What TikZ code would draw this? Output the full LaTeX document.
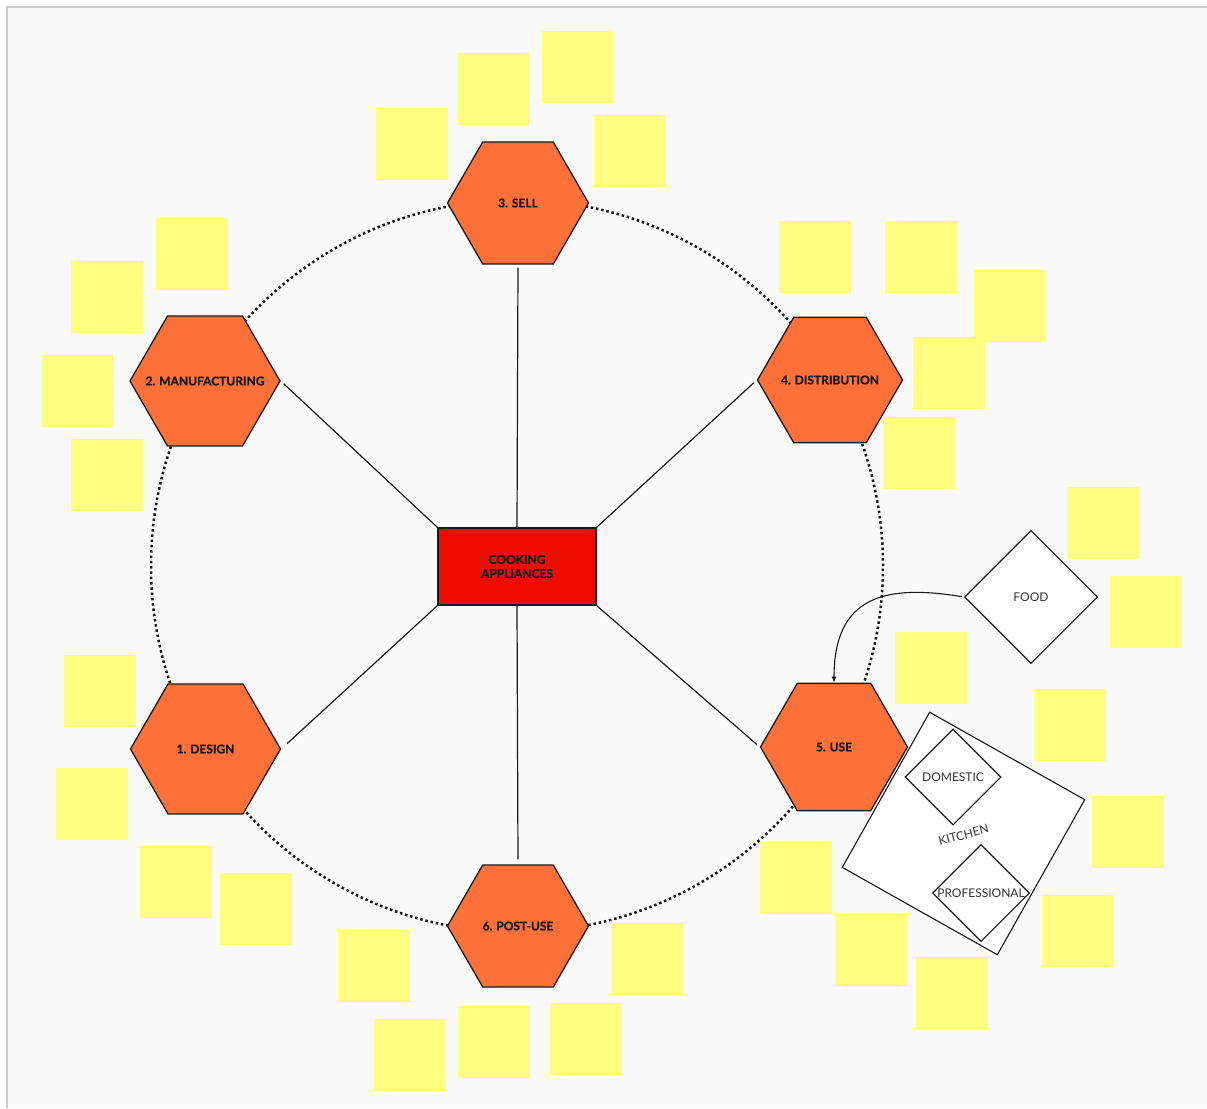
\documentclass[tikz,border=0pt]{standalone}
\usepackage{fontspec}
\setmainfont{Lato}
\newfontfamily\stagefont{Lato}[BoldFeatures={FakeBold=1.2}]
\usepackage{tikz}
\usetikzlibrary{positioning, arrows.meta, shapes.geometric}
\usepackage{xcolor}
\definecolor{canvas}{HTML}{FAFAFA}
\definecolor{frameline}{HTML}{CCCCCC}
\definecolor{stagefill}{HTML}{FF7139}
\definecolor{hubfill}{HTML}{EC0C00}
\definecolor{notefill}{HTML}{FFFF80}
\definecolor{inktext}{HTML}{333333}

\begin{document}
\begin{tikzpicture}[x=1pt, y=-1pt,
    stage/.style={regular polygon, regular polygon sides=6, inner sep=0pt, draw=black!90, line width=1.3pt, fill=stagefill},
    stagetext/.style={text=black!90, font=\stagefont\bfseries\fontsize{12}{14}\selectfont},
    note/.style={anchor=north west, minimum size=72pt, inner sep=0pt, fill=notefill},
    choice/.style={diamond, aspect=1, inner sep=0pt, draw=black!90, line width=1.1pt, fill=white, text=inktext, font=\fontsize{12}{14}\selectfont},
    plain/.style={text=inktext, font=\fontsize{12}{14}\selectfont},
    spoke/.style={black!90, line width=1.2pt},
    ring/.style={black!90, line width=2.5pt, dash pattern=on 2.5pt off 2.8pt}]
                            \useasboundingbox (0,0) rectangle (1207,1108);
                            \fill[white] (0,0) rectangle (1207,1108);
                            \fill[canvas] (7,7) rectangle (1207,1108);
                            \draw[frameline, line width=2pt] (7,1108) -- (7,7) -- (1207,7);

                            \coordinate (O) at (517,566);
                            \draw[ring] (O) circle[radius=366pt];

                            \node[note] (n1) at (457,53) {};
                            \node[note] (n2) at (542,31) {};
                            \node[note] (n3) at (376,108) {};
                            \node[note] (n4) at (594,115) {};
                            \node[note] (n5) at (156,218) {};
                            \node[note] (n6) at (71,261) {};
                            \node[note] (n7) at (41,355) {};
                            \node[note] (n8) at (71,439) {};
                            \node[note] (n9) at (779,221) {};
                            \node[note] (n10) at (885,221) {};
                            \node[note] (n11) at (974,270) {};
                            \node[note] (n12) at (913,337) {};
                            \node[note] (n13) at (883,417) {};
                            \node[note] (n14) at (1067,487) {};
                            \node[note] (n15) at (1110,576) {};
                            \node[note] (n16) at (895,632) {};
                            \node[note] (n17) at (1034,689) {};
                            \node[note] (n18) at (1092,796) {};
                            \node[note] (n19) at (1042,895) {};
                            \node[note] (n20) at (760,842) {};
                            \node[note] (n21) at (835,914) {};
                            \node[note] (n22) at (916,957) {};
                            \node[note] (n23) at (64,655) {};
                            \node[note] (n24) at (56,768) {};
                            \node[note] (n25) at (140,846) {};
                            \node[note] (n26) at (220,873) {};
                            \node[note] (n27) at (338,930) {};
                            \node[note] (n28) at (611,923) {};
                            \node[note] (n29) at (374,1019) {};
                            \node[note] (n30) at (458,1006) {};
                            \node[note] (n31) at (550,1003) {};

                            \node[draw=black!90, line width=1.3pt, fill=hubfill, minimum width=158pt, minimum height=77pt, align=center, stagetext] (hub) at (517,566.5) {COOKING\\APPLIANCES};

                            \node[stage, minimum size=141pt, label={[stagetext]center:3. SELL}] (sell) at (518,203) {};
                            \node[stage, minimum size=150pt, label={[stagetext]center:2. MANUFACTURING}] (manuf) at (205,381) {};
                            \node[stage, minimum size=145pt, label={[stagetext]center:4. DISTRIBUTION}] (distr) at (830,380) {};
                            \node[stage, minimum size=150pt, label={[stagetext]center:1. DESIGN}] (design) at (205.5,749) {};
                            \node[stage, minimum size=147pt, label={[stagetext]center:5. USE}] (use) at (834,747) {};
                            \node[stage, minimum size=141pt, label={[stagetext]center:6. POST-USE}] (postuse) at (518,926) {};

                            \draw[spoke, shorten >=3pt] (hub.north) -- (sell.south);
                            \draw[spoke, shorten >=4pt] (hub.north west) -- (manuf.east);
                            \draw[spoke, shorten >=4pt] (hub.north east) -- (distr.west);
                            \draw[spoke, shorten >=8pt] (hub.south west) -- (design.east);
                            \draw[spoke, shorten >=4pt] (hub.south east) -- (use.west);
                            \draw[spoke, shorten >=5pt] (hub.south) -- (postuse.north);

                            \node[choice, minimum size=133pt] (food) at (1031,597) {FOOD};
                            \draw[black!90, line width=1.1pt, shorten <=2pt, -{Latex[length=6pt,width=5pt]}] (food.west) .. controls (885,584) and (834,596) .. (use.north);

                            \node[draw=black!90, line width=1.1pt, fill=white, minimum size=178pt, inner sep=0pt, rotate=-29.4] (kitchen) at (963.5,833.5) {};
                            \node[plain, rotate=15] (kitchenlabel) at (963.5,835) {KITCHEN};
                            \node[choice, minimum size=96pt] (domestic) at (953,777) {DOMESTIC};
                            \node[choice, minimum size=97pt] (professional) at (981,893) {PROFESSIONAL};
                        \end{tikzpicture}
\end{document}
